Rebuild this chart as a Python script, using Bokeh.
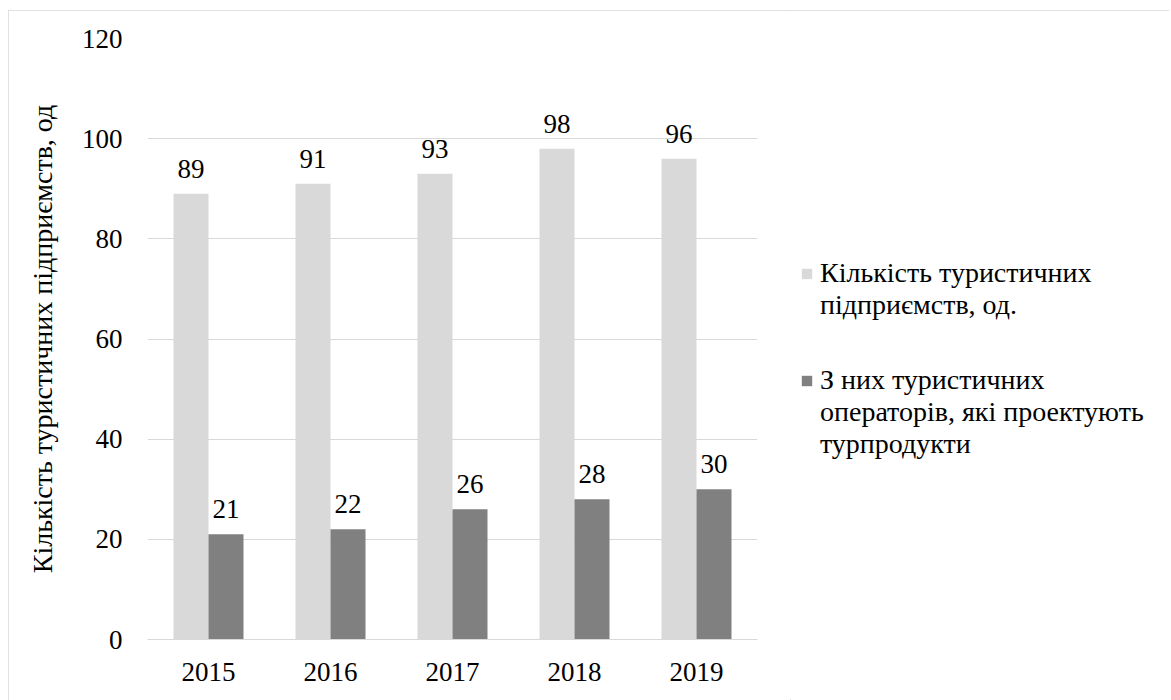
from bokeh.plotting import figure
from bokeh.layouts import row
from bokeh.models import (ColumnDataSource, Range1d, FactorRange, FixedTicker,
                          LabelSet, Legend, LegendItem)
from bokeh.transform import dodge
from bokeh.embed import file_html
from bokeh.resources import INLINE

years = ["2015", "2016", "2017", "2018", "2019"]
enterprises = [89, 91, 93, 98, 96]
operators = [21, 22, 26, 28, 30]
series_names = ["Кількість туристичних\nпідприємств, од.",
                "З них туристичних\nоператорів, які проектують\nтурпродукти"]
y_title = "Кількість туристичних підприємств, од"
y_ticks = [0, 20, 40, 60, 80, 100, 120]

FONT = "Liberation Serif"
FS = "27px"
FS_BIG = "28px"
LIGHT = "#d9d9d9"
DARK = "#808080"

src = ColumnDataSource(dict(year=years, ent=enterprises, op=operators,
                            ent_t=[str(v) for v in enterprises],
                            op_t=[str(v) for v in operators]))

# ---- main chart ----
p = figure(width=782, height=690, x_range=FactorRange(*years, range_padding=0),
           y_range=Range1d(0, 120), output_backend="svg", toolbar_location=None,
           min_border_left=139, min_border_right=33, min_border_top=28,
           min_border_bottom=61)
p.outline_line_color = None
p.background_fill_color = "white"
p.border_fill_color = "white"

bw = 0.287
off = 0.1434
p.vbar(x=dodge("year", -off, range=p.x_range), top="ent", width=bw, source=src,
       fill_color=LIGHT, line_color=None)
p.vbar(x=dodge("year", off, range=p.x_range), top="op", width=bw, source=src,
       fill_color=DARK, line_color=None)

for col, txt, o in (("ent", "ent_t", -off), ("op", "op_t", off)):
    p.add_layout(LabelSet(x=dodge("year", o, range=p.x_range), y=col, text=txt,
                          source=src, y_offset=16, text_align="center",
                          text_baseline="alphabetic", text_font=FONT,
                          text_font_size=FS, text_color="black"))

p.xgrid.grid_line_color = None
p.ygrid.grid_line_color = LIGHT
p.ygrid.grid_line_width = 1

p.yaxis.ticker = FixedTicker(ticks=y_ticks)
p.yaxis.axis_line_color = None
p.yaxis.major_label_standoff = 25
p.yaxis.axis_label = y_title
p.yaxis.axis_label_standoff = 21
p.yaxis.axis_label_text_font = FONT
p.yaxis.axis_label_text_font_size = FS_BIG
p.yaxis.axis_label_text_font_style = "normal"
p.yaxis.axis_label_text_color = "black"

p.xaxis.axis_line_color = LIGHT
p.xaxis.major_label_standoff = 23

for ax in (p.xaxis, p.yaxis):
    ax.major_tick_line_color = None
    ax.minor_tick_line_color = None
    ax.major_tick_out = 0
    ax.major_tick_in = 0
    ax.minor_tick_out = 0
    ax.major_label_text_font = FONT
    ax.major_label_text_font_size = FS
    ax.major_label_text_color = "black"

# ---- legend panel (swatch renderers with zero width: nothing drawn in the view) ----
q = figure(width=379, height=690, x_range=FactorRange(*years),
           y_range=Range1d(500, 600), output_backend="svg", toolbar_location=None,
           x_axis_type=None, y_axis_type=None, min_border=0)
q.grid.visible = False
q.outline_line_color = None
q.background_fill_color = "white"
q.border_fill_color = "white"

sw1 = q.vbar(x="year", top="ent", width=0, source=src, fill_color=LIGHT, line_color=None)
sw2 = q.vbar(x="year", top="op", width=0, source=src, fill_color=DARK, line_color=None)
blank = q.vbar(x="year", top="op", width=0, source=src, fill_alpha=0, line_alpha=0)

for name, sw, loc in zip(series_names, (sw1, sw2), ((10, 318), (10, 179))):
    lines = name.split("\n")
    items = [LegendItem(label=lines[0], renderers=[sw])]
    items += [LegendItem(label=ln, renderers=[blank]) for ln in lines[1:]]
    q.add_layout(Legend(items=items, location=loc, orientation="vertical",
                        padding=0, margin=0, spacing=0, glyph_width=13,
                        glyph_height=13, label_standoff=7, border_line_color=None,
                        background_fill_alpha=0, label_text_font=FONT,
                        label_text_font_size=FS_BIG, label_text_color="black"),
                 "center")

layout = row(p, q, margin=(10, 0, 0, 8), spacing=0,
             styles={"outline": "1px solid #d9d9d9", "outline-offset": "-1px"})

open("out.html", "w").write(file_html(layout, INLINE))
